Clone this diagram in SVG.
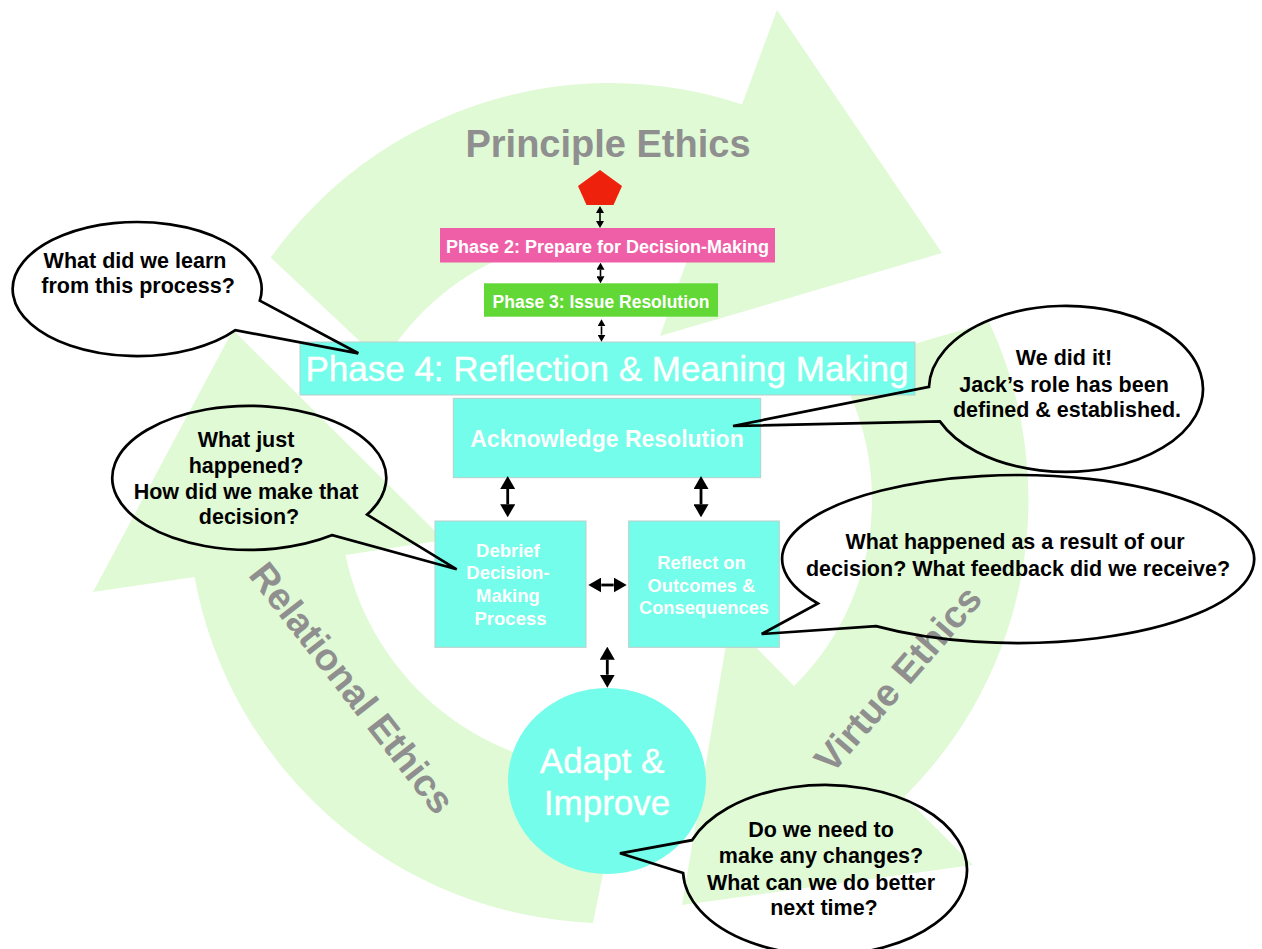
<svg xmlns="http://www.w3.org/2000/svg" width="1262" height="949" viewBox="0 0 1262 949">
  <style>
    .band { fill: #e0fad5; }
    .ethic { font-family: "Liberation Sans", Arial, sans-serif; font-weight: bold; font-size: 38px; fill: #8f8f8f; text-anchor: middle; }
    .box { fill: #73fdea; stroke: #b9cfcb; stroke-width: 1; }
    .wt { font-family: "Liberation Sans", Arial, sans-serif; fill: #ffffff; text-anchor: middle; }
    .b { font-weight: bold; }
    .conn-s { stroke: #000; stroke-width: 1.6; fill: none; marker-start: url(#ah-s); marker-end: url(#ah-s); }
    .conn-l { stroke: #000; stroke-width: 2.8; fill: none; marker-start: url(#ah-l); marker-end: url(#ah-l); }
    .bub { fill: none; stroke: #000; stroke-width: 2.7; stroke-linejoin: miter; }
    .bt { font-family: "Liberation Sans", Arial, sans-serif; font-weight: bold; font-size: 21.5px; fill: #000; text-anchor: middle; }
  </style>
  <defs>
    <marker id="ah-s" markerUnits="userSpaceOnUse" markerWidth="7" markerHeight="8" viewBox="0 0 7 8" refX="0" refY="4" orient="auto-start-reverse">
      <path d="M0,0 L7,4 L0,8 Z" fill="#000"/>
    </marker>
    <marker id="ah-l" markerUnits="userSpaceOnUse" markerWidth="13" markerHeight="15" viewBox="0 0 13 15" refX="0" refY="7.5" orient="auto-start-reverse">
      <path d="M0,0 L13,7.5 L0,15 Z" fill="#000"/>
    </marker>
  </defs>

  <!-- background cycle of three curved arrows -->
  <g id="cycle">
    <path id="arrow-principle" class="band" d="M270.7,257.6 A417,417 0 0 1 742,104.4 L777,10 L942,253 L660,336 L691.6,247.8 A264,264 0 0 0 383,363 Z"/>
    <path id="arrow-virtue" class="band" d="M989,322 A418,418 0 0 1 904.5,796.5 L973,865 L682,905 L730,621 L794,686 A262,262 0 0 0 836,367 Z"/>
    <path id="arrow-relational" class="band" d="M593,923 A423,423 0 0 1 194.5,577 L93,592 L233,330 L444,540 L345.5,555 A270,270 0 0 0 624,769.5 Z"/>
  </g>

  <g id="cycle-labels">
    <text class="ethic" x="608" y="157">Principle Ethics</text>
    <text class="ethic" x="352" y="688" dy="13" transform="rotate(52 352 688)">Relational Ethics</text>
    <text class="ethic" x="898" y="679" dy="13" transform="rotate(-49 898 679)">Virtue Ethics</text>
  </g>

  <!-- process nodes -->
  <g id="node-start">
    <polygon points="600,170 622,186 613.5,205 586.5,205 578,186" fill="#ee220c"/>
  </g>
  <g id="node-phase2">
    <rect x="440" y="228" width="335" height="34.5" fill="#ef5fa7"/>
    <text class="wt b" x="607.5" y="253" font-size="18">Phase 2: Prepare for Decision-Making</text>
  </g>
  <g id="node-phase3">
    <rect x="484" y="283.3" width="234" height="33.4" fill="#61d836"/>
    <text class="wt b" x="601" y="307.5" font-size="17.5">Phase 3: Issue Resolution</text>
  </g>
  <g id="node-phase4">
    <rect class="box" x="300" y="342" width="615" height="53"/>
    <text class="wt" x="607" y="381" font-size="35" stroke="#ffffff" stroke-width="0.4">Phase 4: Reflection &amp; Meaning Making</text>
  </g>
  <g id="node-acknowledge">
    <rect class="box" x="453.3" y="398.3" width="307.4" height="79.4"/>
    <text class="wt b" x="607" y="446.7" font-size="23">Acknowledge Resolution</text>
  </g>
  <g id="node-debrief">
    <rect class="box" x="435" y="521" width="151" height="126.3"/>
    <text class="wt b" x="510.5" font-size="18.5">
      <tspan x="510.5" y="556.7">Debrief</tspan>
      <tspan x="510.5" y="579.4">Decision-</tspan>
      <tspan x="510.5" y="602.1">Making</tspan>
      <tspan x="510.5" y="624.8">Process</tspan>
    </text>
  </g>
  <g id="node-reflect">
    <rect class="box" x="628.7" y="521" width="150.6" height="126.3"/>
    <text class="wt b" x="704" font-size="18.3">
      <tspan x="704" y="569">Reflect on</tspan>
      <tspan x="704" y="591.7">Outcomes &amp;</tspan>
      <tspan x="704" y="614.4">Consequences</tspan>
    </text>
  </g>
  <g id="node-adapt">
    <ellipse cx="607" cy="781" rx="99" ry="93" fill="#73fdea"/>
    <text class="wt" x="607" font-size="35" stroke="#ffffff" stroke-width="0.4">
      <tspan x="607" y="772.7">Adapt &amp;</tspan>
      <tspan x="607" y="815">Improve</tspan>
    </text>
  </g>

  <!-- two-way connectors -->
  <g id="connectors">
    <line class="conn-s" x1="600" y1="213" x2="600" y2="221"/>
    <line class="conn-s" x1="600.5" y1="269.7" x2="600.5" y2="276.3"/>
    <line class="conn-s" x1="601.5" y1="326.3" x2="601.5" y2="334.7"/>
    <line class="conn-l" x1="507.7" y1="489" x2="507.7" y2="504.3"/>
    <line class="conn-l" x1="701" y1="489" x2="701" y2="504.3"/>
    <line class="conn-l" x1="601.3" y1="585" x2="613.7" y2="585"/>
    <line class="conn-l" x1="607.3" y1="659.7" x2="607.3" y2="674.7"/>
  </g>

  <!-- speech bubbles -->
  <g id="bubble-learn">
    <path class="bub" d="M235.4,330.2 A124.5,67 0 1 1 259.8,300.6 L358.3,353.3 Z"/>
    <text class="bt">
      <tspan x="138" y="268.3">What did we learn</tspan>
      <tspan x="138" y="293.3">from this process?</tspan>
    </text>
  </g>
  <g id="bubble-debrief">
    <path class="bub" d="M367.1,514.6 A137,72 0 1 0 332.4,535.1 L456.7,569.3 Z"/>
    <text class="bt">
      <tspan x="249" y="446.7">What just</tspan>
      <tspan x="249" y="472.7">happened?</tspan>
      <tspan x="249" y="499">How did we make that</tspan>
      <tspan x="249" y="524">decision?</tspan>
    </text>
  </g>
  <g id="bubble-acknowledge">
    <path class="bub" d="M929,386.8 A137,83 0 1 1 939.9,421.4 L733,426 Z"/>
    <text class="bt">
      <tspan x="1067" y="365">We did it!</tspan>
      <tspan x="1067" y="391.7">Jack’s role has been</tspan>
      <tspan x="1067" y="416.7">defined &amp; established.</tspan>
    </text>
  </g>
  <g id="bubble-reflect">
    <path class="bub" d="M817.9,603.5 A236,84 0 1 1 876,626.1 L761.7,634 Z"/>
    <text class="bt">
      <tspan x="1018" y="549.3">What happened as a result of our</tspan>
      <tspan x="1018" y="576">decision? What feedback did we receive?</tspan>
    </text>
  </g>
  <g id="bubble-adapt">
    <path class="bub" d="M692,840.2 A142,85 0 1 1 683.1,873 L620,853.3 Z"/>
    <text class="bt">
      <tspan x="824" y="836.7">Do we need to</tspan>
      <tspan x="824" y="863.3">make any changes?</tspan>
      <tspan x="824" y="890">What can we do better</tspan>
      <tspan x="824" y="915">next time?</tspan>
    </text>
  </g>
</svg>
